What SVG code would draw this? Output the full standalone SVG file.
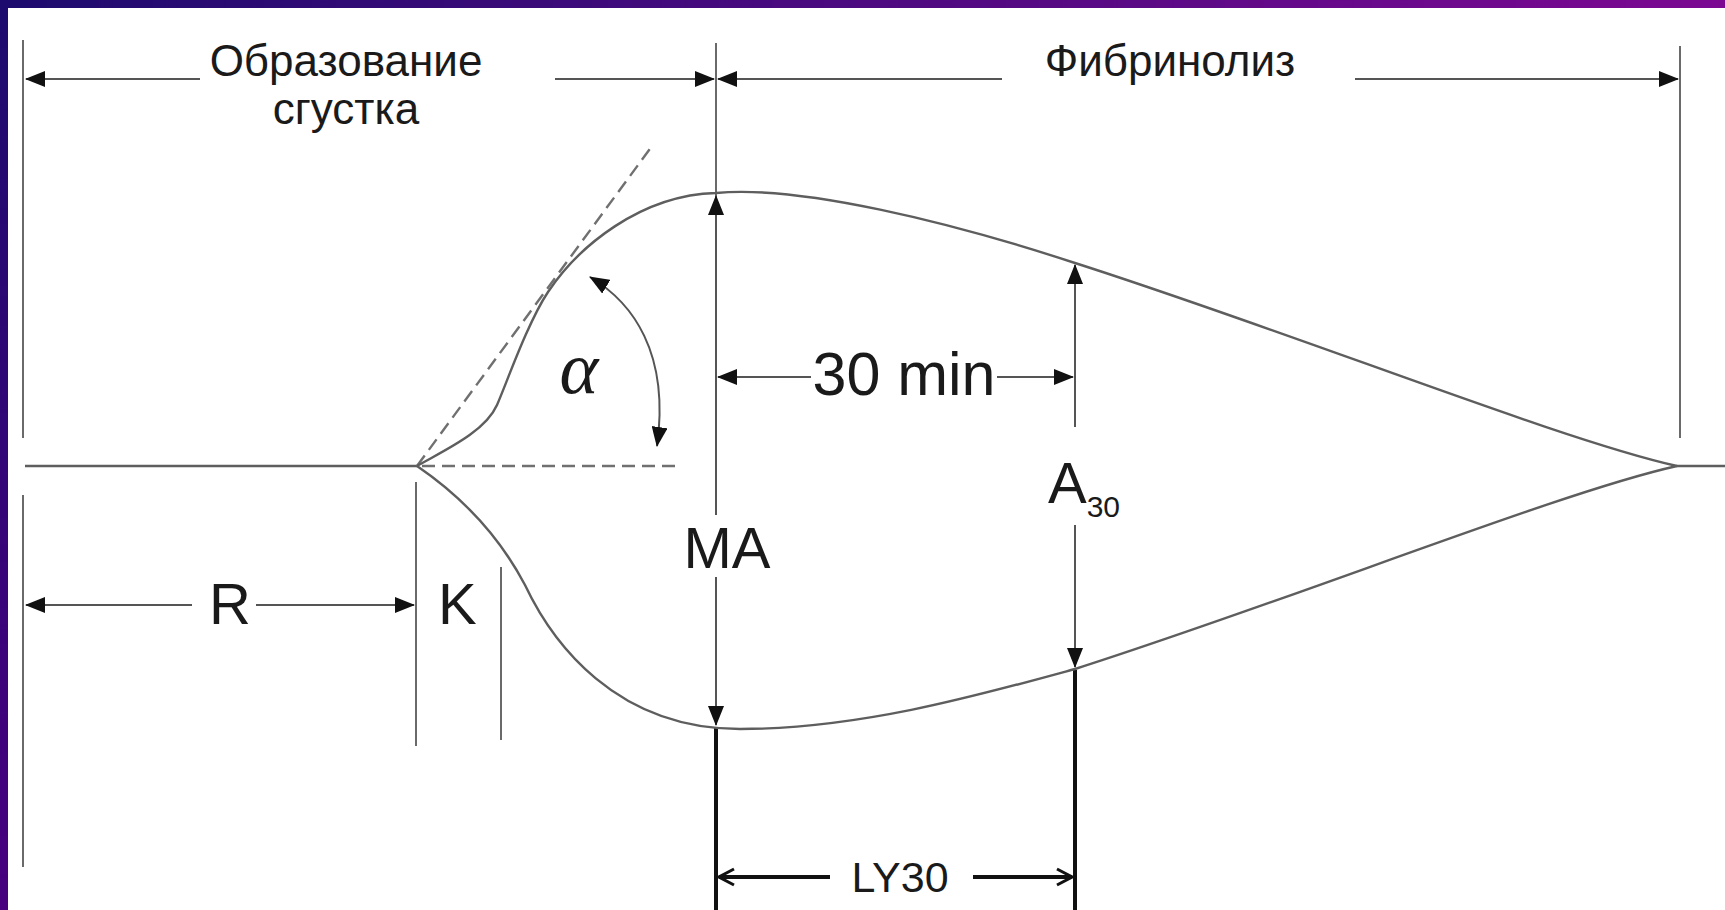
<svg xmlns="http://www.w3.org/2000/svg" width="1725" height="910" viewBox="0 0 1725 910">
<style>
.thin{stroke:#6a6a6a;stroke-width:2;fill:none}
.curve{stroke:#5e5e5e;stroke-width:2.4;fill:none}
.dash{stroke:#707070;stroke-width:2.4;fill:none;stroke-dasharray:13 7}
.thick{stroke:#111;stroke-width:4;fill:none}
.arr{stroke:#555;stroke-width:2;fill:none}
.lbl{font-family:"Liberation Sans",Arial,sans-serif;fill:#1a1a1a}
</style>
<defs>
<linearGradient id="gTop" x1="0" y1="0" x2="1" y2="0"><stop offset="0" stop-color="#1d0b6e"/><stop offset="1" stop-color="#7c0892"/></linearGradient>
<linearGradient id="gLeft" x1="0" y1="0" x2="0" y2="1"><stop offset="0" stop-color="#1d0b6e"/><stop offset="1" stop-color="#48007f"/></linearGradient>
<marker id="ah" markerUnits="userSpaceOnUse" markerWidth="20" markerHeight="16" viewBox="0 0 20 16" refX="19" refY="8" orient="auto-start-reverse"><path d="M0,0 L20,8 L0,16 z" fill="#111"/></marker>
<marker id="ov" markerUnits="userSpaceOnUse" markerWidth="20" markerHeight="20" viewBox="0 0 20 20" refX="18" refY="10" orient="auto-start-reverse"><path d="M3,2 L18,10 L3,18" fill="none" stroke="#111" stroke-width="3"/></marker>
</defs>
<rect x="0" y="0" width="1725" height="910" fill="#ffffff"/>
<rect x="0" y="0" width="1725" height="8" fill="url(#gTop)"/>
<rect x="0" y="0" width="8" height="910" fill="url(#gLeft)"/>

<g id="frame-lines">
<line class="thin" x1="23" y1="40" x2="23" y2="438"/>
<line class="thin" x1="23" y1="495" x2="23" y2="867"/>
<line class="thin" x1="1680" y1="46" x2="1680" y2="438"/>
<line class="thin" x1="716" y1="43" x2="716" y2="197"/>
<line class="thin" x1="416" y1="482" x2="416" y2="746"/>
<line class="thin" x1="501" y1="567" x2="501" y2="740"/>
<line class="thick" x1="716" y1="727" x2="716" y2="910"/>
<line class="thick" x1="1075" y1="670" x2="1075" y2="910"/>
</g>

<g id="baseline">
<line class="curve" x1="25" y1="466" x2="417" y2="466"/>
<line class="curve" x1="1677" y1="466" x2="1725" y2="466"/>
<line class="dash" x1="422" y1="466" x2="682" y2="466"/>
<line class="dash" x1="417" y1="466" x2="652" y2="146"/>
</g>

<g id="trace">
<path class="curve" d="M417,466 C445,450 485,432 497,405 C507,382 528,322 548,292 C578,247 640,195 716,193 C800,185 950,222 1075,263 C1300,335 1560,440 1677,466"/>
<path class="curve" d="M417,466 C455,492 495,528 525,585 C552,642 615,729 740,729 C860,729 980,695 1075,669 C1300,597 1560,492 1677,466"/>
</g>

<g id="connectors">
<path class="arr" d="M200,79 L26,79" marker-end="url(#ah)"/>
<path class="arr" d="M555,79 L714,79" marker-end="url(#ah)"/>
<path class="arr" d="M1002,79 L718,79" marker-end="url(#ah)"/>
<path class="arr" d="M1355,79 L1678,79" marker-end="url(#ah)"/>
<path class="arr" d="M192,605 L26,605" marker-end="url(#ah)"/>
<path class="arr" d="M256,605 L414,605" marker-end="url(#ah)"/>
<path class="arr" d="M716,515 L716,196" marker-end="url(#ah)"/>
<path class="arr" d="M716,577 L716,725" marker-end="url(#ah)"/>
<path class="arr" d="M811,377 L718,377" marker-end="url(#ah)"/>
<path class="arr" d="M997,377 L1073,377" marker-end="url(#ah)"/>
<path class="arr" d="M1075,427 L1075,265" marker-end="url(#ah)"/>
<path class="arr" d="M1075,525 L1075,667" marker-end="url(#ah)"/>
<path class="arr" d="M590,277 C632,302 670,352 657,446" marker-start="url(#ah)" marker-end="url(#ah)"/>
<path d="M830,877 L719,877" stroke="#111" stroke-width="4" fill="none" marker-end="url(#ov)"/>
<path d="M973,877 L1072,877" stroke="#111" stroke-width="4" fill="none" marker-end="url(#ov)"/>
</g>

<g id="label-clot">
<text class="lbl" x="346" y="76" font-size="44" text-anchor="middle">Образование</text>
<text class="lbl" x="346" y="124" font-size="44" text-anchor="middle">сгустка</text>
</g>
<g id="label-fibrinolysis">
<text class="lbl" x="1170" y="76" font-size="44" text-anchor="middle">Фибринолиз</text>
</g>
<g id="label-alpha">
<text x="579" y="393" font-size="74" font-family="Liberation Serif,Times New Roman,serif" font-style="italic" fill="#1a1a1a" text-anchor="middle">α</text>
</g>
<g id="label-30min">
<text class="lbl" x="904" y="395" font-size="61" text-anchor="middle">30 min</text>
</g>
<g id="label-MA">
<text class="lbl" x="727" y="568" font-size="58" text-anchor="middle">MA</text>
</g>
<g id="label-A30">
<text class="lbl" x="1048" y="503" font-size="58">A<tspan font-size="30" dy="14">30</tspan></text>
</g>
<g id="label-R">
<text class="lbl" x="230" y="624" font-size="58" text-anchor="middle">R</text>
</g>
<g id="label-K">
<text class="lbl" x="438" y="624" font-size="58">K</text>
</g>
<g id="label-LY30">
<text class="lbl" x="900" y="892" font-size="43" text-anchor="middle">LY30</text>
</g>
</svg>
